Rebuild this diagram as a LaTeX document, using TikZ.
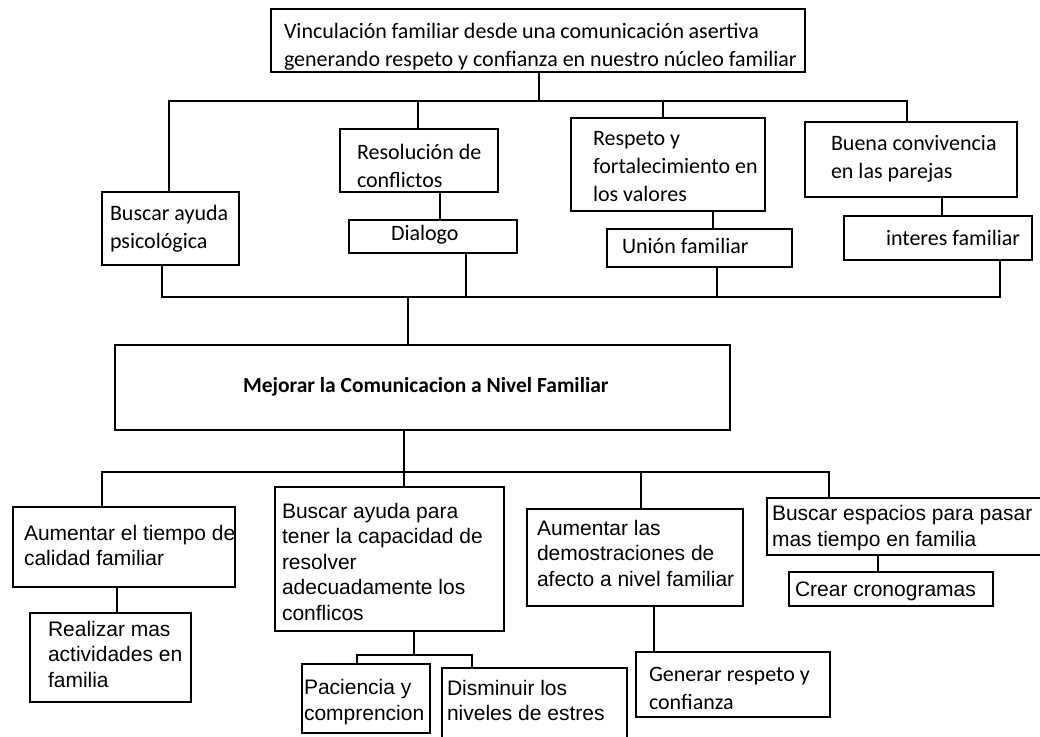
\documentclass[tikz,border=0pt]{standalone}
\usepackage{fontspec}
\newfontfamily\calibri{Carlito}
\newfontfamily\arial{Liberation Sans}
\newcommand{\ctext}[4][0]{\makebox[#2pt][l]{\hspace*{#3pt}\raisebox{-#1pt}[\height][\depth]{\begin{tabular}{@{}l@{}}#4\end{tabular}}}}
\begin{document}
\begin{tikzpicture}[x=1pt,y=-1pt,
  box/.style={draw=black, line width=1.5pt, inner sep=0pt, outer sep=0pt, anchor=north west, text=black},
  cal/.style={font=\calibri\fontsize{22}{28}\selectfont},
  ari/.style={font=\arial\fontsize{21}{25.5}\selectfont},
  bold/.style={font=\calibri\bfseries\fontsize{21.5}{26}\selectfont},
  conn/.style={draw=black, line width=1.5pt}]
\useasboundingbox (0,0) rectangle (1040,736);
\fill[white] (0,0) rectangle (1040,736);
\clip (0,0) rectangle (1040,736);

% ---------- upper part ----------
\node[box, cal, minimum width=534pt, minimum height=63pt] (top) at (271,9)
  {\ctext[6]{534}{13}{\makebox[475pt][s]{Vinculación familiar desde una comunicación asertiva}\\generando respeto y confianza en nuestro núcleo familiar}};
\node[box, cal, minimum width=137pt, minimum height=73pt] (ayuda) at (102,192)
  {\ctext{137}{8}{Buscar ayuda\\psicológica}};
\node[box, cal, minimum width=158pt, minimum height=63pt] (resol) at (340,129)
  {\ctext[7]{158}{17}{Resolución de\\conflictos}};
\node[box, cal, minimum width=168pt, minimum height=33pt] (dialogo) at (349,220)
  {\ctext[-2]{168}{42}{Dialogo}};
\node[box, cal, minimum width=194pt, minimum height=93pt] (respeto) at (571,118)
  {\ctext[3]{194}{22}{Respeto y\\fortalecimiento en\\los valores}};
\node[box, cal, minimum width=185pt, minimum height=38pt] (union) at (607,229)
  {\ctext{185}{15}{Unión familiar}};
\node[box, cal, minimum width=212pt, minimum height=75pt] (buena) at (805,122)
  {\ctext[-1]{212}{26}{Buena convivencia\\en las parejas}};
\node[box, cal, minimum width=188pt, minimum height=44pt] (interes) at (844,216)
  {\ctext[2]{188}{42}{interes familiar}};

% ---------- centre ----------
\node[box, bold, minimum width=615pt, minimum height=85pt] (mejorar) at (115,345)
  {\ctext{615}{128}{Mejorar la Comunicacion a Nivel Familiar}};

% ---------- lower part ----------
\node[box, ari, minimum width=222pt, minimum height=80pt] (aumT) at (13,507)
  {\ctext[1]{222}{11}{Aumentar el tiempo de\\calidad familiar}};
\node[box, ari, minimum width=161pt, minimum height=89pt] (realizar) at (30,613)
  {\ctext[-1]{161}{18}{Realizar mas\\actividades en\\familia}};
\node[box, ari, minimum width=229pt, minimum height=144pt] (buscarP) at (275,487)
  {\ctext[5]{229}{7}{Buscar ayuda para\\tener la capacidad de\\resolver\\adecuadamente los\\conflicos}};
\node[box, ari, minimum width=128pt, minimum height=69pt] (paciencia) at (302,664)
  {\ctext[4]{128}{2}{Paciencia y\\comprencion}};
\node[box, ari, minimum width=185pt, minimum height=72pt] (disminuir) at (442,668)
  {\ctext[-1]{185}{5}{Disminuir los\\niveles de estres}};
\node[box, ari, minimum width=216pt, minimum height=97pt] (aumL) at (527,509)
  {\ctext[-2]{216}{10}{Aumentar las\\demostraciones de\\afecto a nivel familiar}};
\node[box, cal, minimum width=194pt, minimum height=65pt] (generar) at (636,652)
  {\ctext[5]{194}{13}{Generar respeto y\\confianza}};
\node[box, ari, minimum width=290pt, minimum height=57pt] (espacios) at (767,498)
  {\ctext[2]{290}{5}{Buscar espacios para pasar\\mas tiempo en familia}};
\node[box, ari, minimum width=204pt, minimum height=34pt] (crear) at (789,572)
  {\ctext[2]{204}{6}{Crear cronogramas}};

% ---------- junction coordinates ----------
\coordinate (jA) at (169,101);
\coordinate (jT) at (539,101);
\coordinate (jR) at (418,101);
\coordinate (jS) at (663,101);
\coordinate (jB) at (907,101);
\coordinate (c1) at (440,200);
\coordinate (c2) at (713,200);
\coordinate (c3) at (942,200);
\coordinate (kA) at (162,297);
\coordinate (kD) at (466,297);
\coordinate (kM) at (408,297);
\coordinate (kU) at (717,297);
\coordinate (kI) at (1000,297);
\coordinate (mA) at (102,472);
\coordinate (mB) at (404,472);
\coordinate (mC) at (641,472);
\coordinate (mD) at (829,472);
\coordinate (c4) at (117,600);
\coordinate (n0) at (414,655);
\coordinate (nL) at (357,655);
\coordinate (nR) at (472,655);
\coordinate (c5) at (654,620);
\coordinate (c6) at (878,560);

% ---------- connectors ----------
\draw[conn] (top.south -| jT) -- (jT);
\draw[conn] (ayuda.north -| jA) -- (jA) -- (jB) -- (buena.north -| jB);
\draw[conn] (jR) -- (resol.north -| jR);
\draw[conn] (jS) -- (respeto.north -| jS);
\draw[conn] (resol.south -| c1) -- (dialogo.north -| c1);
\draw[conn] (respeto.south -| c2) -- (union.north -| c2);
\draw[conn] (buena.south -| c3) -- (interes.north -| c3);

\draw[conn] (ayuda.south -| kA) -- (kA) -- (kI) -- (interes.south -| kI);
\draw[conn] (dialogo.south -| kD) -- (kD);
\draw[conn] (union.south -| kU) -- (kU);
\draw[conn] (kM) -- (mejorar.north -| kM);

\draw[conn] (mejorar.south -| mB) -- (mB);
\draw[conn] (aumT.north -| mA) -- (mA) -- (mD) -- (espacios.north -| mD);
\draw[conn] (mB) -- (buscarP.north -| mB);
\draw[conn] (mC) -- (aumL.north -| mC);
\draw[conn] (aumT.south -| c4) -- (realizar.north -| c4);
\draw[conn] (buscarP.south -| n0) -- (n0);
\draw[conn] (paciencia.north -| nL) -- (nL) -- (nR) -- (disminuir.north -| nR);
\draw[conn] (aumL.south -| c5) -- (generar.north -| c5);
\draw[conn] (espacios.south -| c6) -- (crear.north -| c6);
\end{tikzpicture}
\end{document}
